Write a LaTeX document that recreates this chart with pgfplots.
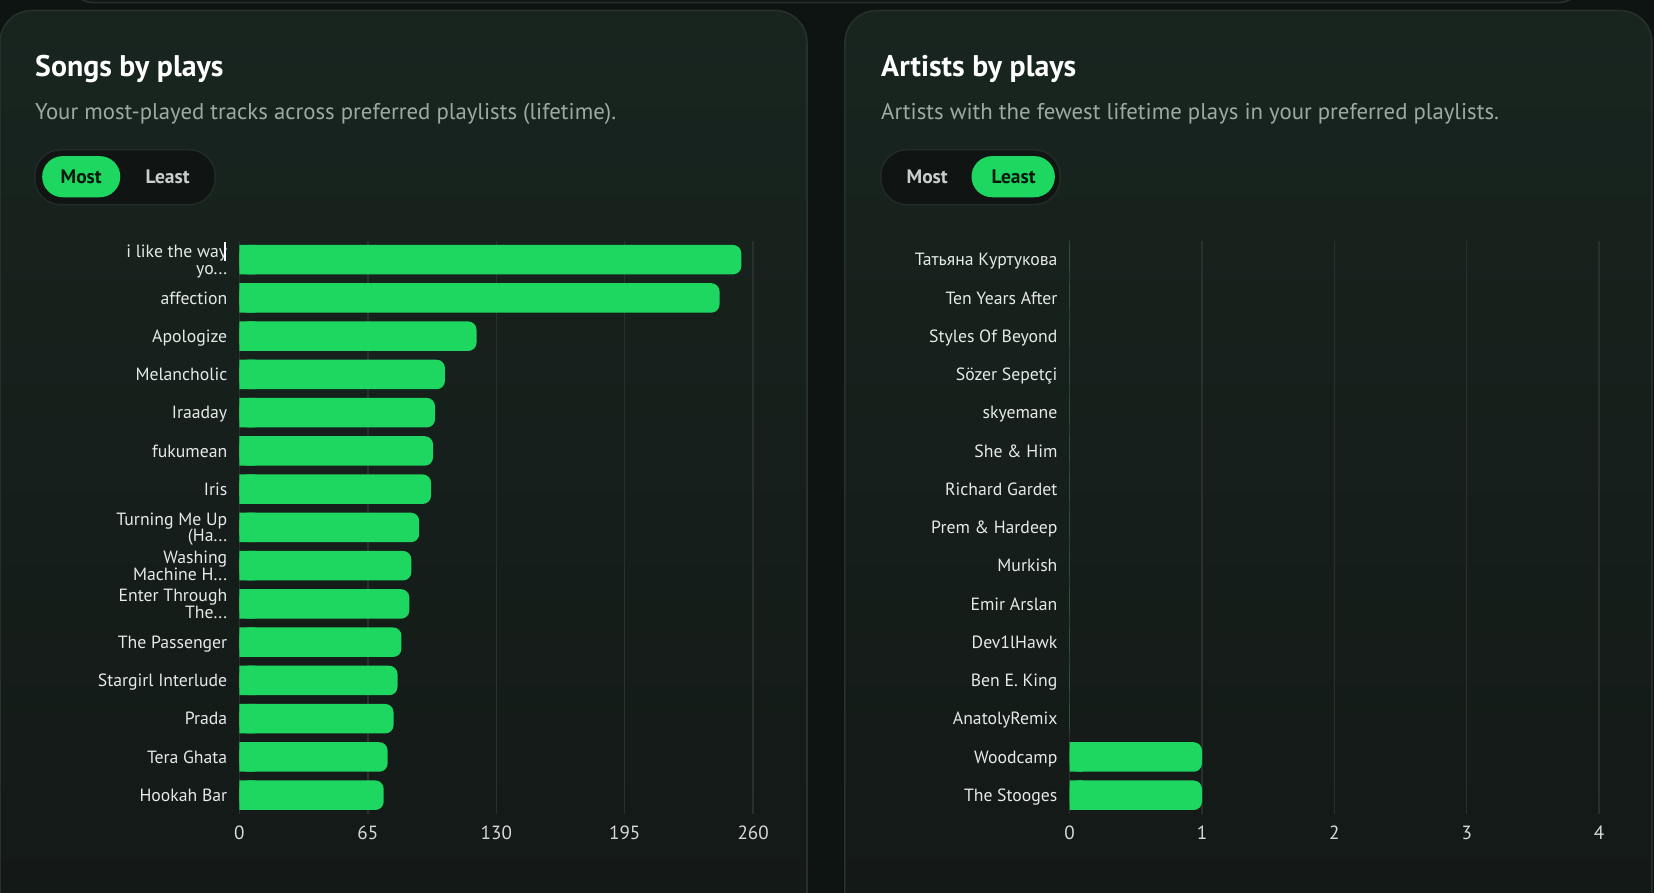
\documentclass[border=0pt]{standalone}
\usepackage{fontspec}
\setmainfont{PT Sans}
\usepackage{pgfplots}
\pgfplotsset{compat=1.18}
\usepackage{pgfplotstable}

\definecolor{pagebg}{HTML}{0E1411}
\definecolor{cardtop}{HTML}{18251F}
\definecolor{cardbot}{HTML}{131816}
\definecolor{cardedge}{HTML}{27302B}
\definecolor{spgreen}{HTML}{1ED760}
\definecolor{gridc}{HTML}{2A302D}
\definecolor{labc}{HTML}{E6EAE7}
\definecolor{tickc}{HTML}{D5DAD7}
\definecolor{subc}{HTML}{A0A8A4}
\definecolor{pillbg}{HTML}{101513}
\definecolor{pilledge}{HTML}{252B28}
\definecolor{darktxt}{HTML}{07170D}
\definecolor{offtxt}{HTML}{C9D0CC}

% three periods, kept out of the reach of pgffor's "..."
\newcommand{\tdots}{.{}.{}.}

% songs, most played (lifetime)
\pgfplotstableread[col sep=comma]{
idx,plays
0,254
1,243
2,120
3,104
4,99
5,98
6,97
7,91
8,87
9,86
10,82
11,80
12,78
13,75
14,73
}\songs

% artists, fewest plays
\pgfplotstableread[col sep=comma]{
idx,plays
0,0
1,0
2,0
3,0
4,0
5,0
6,0
7,0
8,0
9,0
10,0
11,0
12,0
13,1
14,1
}\artists

\pgfplotsset{
  hbars/.style={
    scale only axis,
    height=288.3pt,
    xbar, bar width=14.84pt, bar shift=0pt,
    y dir=reverse,
    ymin=-0.5, ymax=14.5,
    xmin=0,
    ytick={0,1,2,3,4,5,6,7,8,9,10,11,12,13,14},
    enlargelimits=false,
    axis line style={draw=none},
    major tick length=0pt,
    xmajorgrids,
    grid style={gridc, line width=0.7pt},
    /pgf/number format/assume math mode=true,
    yticklabel style={font=\fontsize{8.9}{8.3}\selectfont, text=labc, align=right,
      xshift=-2.6pt, yshift=-0.9pt, execute at end node={\vphantom{Ay}}},
    xticklabel style={font=\fontsize{9.6}{10}\selectfont, text=tickc, yshift=-2.5pt},
  },
}

\begin{document}
\begin{tikzpicture}[x=0.53pt, y=-0.53pt]
\useasboundingbox (0,0) rectangle (1568,846);
\fill[pagebg] (-10,-10) rectangle (1580,860);

% bottom edge of the card above
\draw[cardedge, fill=pagebg!70!cardtop, rounded corners=12pt, line width=0.8pt] (66,-60) rectangle (1500,2.5);

% cards
\shade[top color=cardtop, bottom color=cardbot, rounded corners=16pt] (0,10) rectangle (765,920);
\draw[cardedge, rounded corners=16pt, line width=0.8pt] (0,10) rectangle (765,920);
\shade[top color=cardtop, bottom color=cardbot, rounded corners=16pt] (801,10) rectangle (1566,920);
\draw[cardedge, rounded corners=16pt, line width=0.8pt] (801,10) rectangle (1566,920);

% titles
\node[anchor=base west, inner sep=0pt, text=white, font=\fontsize{15}{18}\selectfont\bfseries] at (33,73) {Songs by plays};
\node[anchor=base west, inner sep=0pt, text=subc, font=\fontsize{11.45}{13}\selectfont] at (33,113) {Your most-played tracks across preferred playlists (lifetime).};
\node[anchor=base west, inner sep=0pt, text=white, font=\fontsize{15}{18}\selectfont\bfseries] at (835,73) {Artists by plays};
\node[anchor=base west, inner sep=0pt, text=subc, font=\fontsize{11.45}{13}\selectfont] at (835,113) {Artists with the fewest lifetime plays in your preferred playlists.};

% toggles
\draw[pilledge, fill=pillbg, rounded corners=13pt, line width=0.7pt] (33,142) rectangle (204,194);
\fill[spgreen, rounded corners=10.3pt] (40,148) rectangle (114,187);
\node[text=darktxt, font=\fontsize{9.8}{12}\selectfont\bfseries] at (77,167.5) {Most};
\node[text=offtxt, font=\fontsize{9.8}{12}\selectfont\bfseries] at (159,167.5) {Least};

\draw[pilledge, fill=pillbg, rounded corners=13pt, line width=0.7pt] (835,142) rectangle (1005,194);
\fill[spgreen, rounded corners=10.3pt] (921,148) rectangle (1000,187);
\node[text=offtxt, font=\fontsize{9.8}{12}\selectfont\bfseries] at (879,167.5) {Most};
\node[text=darktxt, font=\fontsize{9.8}{12}\selectfont\bfseries] at (961,167.5) {Least};

% left chart
\begin{axis}[hbars,
  at={(120.31pt,-409.16pt)}, anchor=south west,
  width=258.1pt,
  xmax=260, xtick={0,65,130,195,260},
  yticklabels={{i like the way\\yo\tdots},affection,Apologize,Melancholic,Iraaday,fukumean,Iris,{Turning Me Up\\(Ha\tdots},{Washing\\Machine H\tdots},{Enter Through\\The\tdots},The Passenger,Stargirl Interlude,Prada,Tera Ghata,Hookah Bar},
]
\addplot[fill=spgreen, draw=none, rounded corners=4.2pt] table[x=plays, y=idx] {\songs};
\addplot[fill=spgreen, draw=none, forget plot] table[x expr={min(\thisrow{plays},8)}, y=idx] {\songs};
\end{axis}

% right chart
\begin{axis}[hbars,
  at={(537.42pt,-409.16pt)}, anchor=south west,
  width=266.06pt,
  xmax=4, xtick={0,1,2,3,4},
  yticklabels={Татьяна Куртукова,Ten Years After,Styles Of Beyond,Sözer Sepetçi,skyemane,She \& Him,Richard Gardet,Prem \& Hardeep,Murkish,Emir Arslan,Dev1lHawk,Ben E. King,AnatolyRemix,Woodcamp,The Stooges},
]
\addplot[fill=spgreen, draw=none, rounded corners=4.2pt] table[x=plays, y=idx] {\artists};
\addplot[fill=spgreen, draw=none, forget plot] table[x expr={min(\thisrow{plays},0.1)}, y=idx] {\artists};
\end{axis}

% text cursor next to the first label
\fill[white] (212.5,229) rectangle (214.5,247);
\end{tikzpicture}
\end{document}
